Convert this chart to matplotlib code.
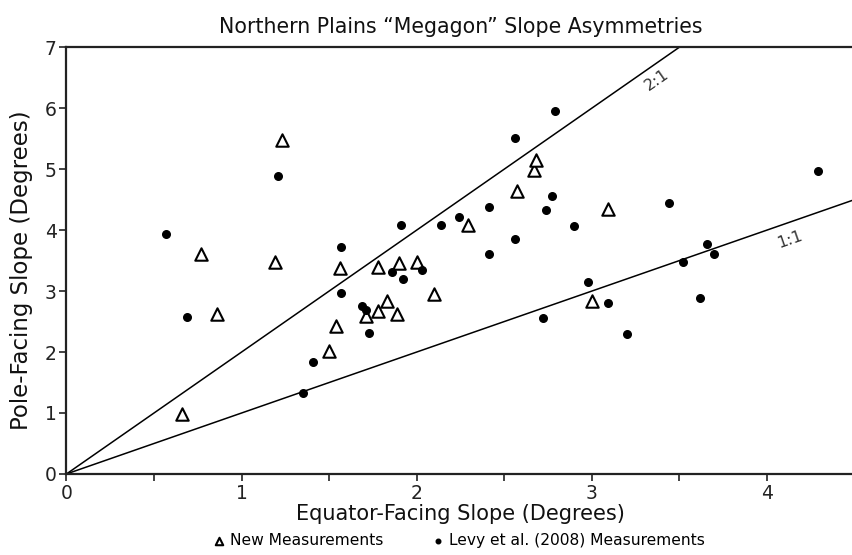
import numpy as np
import matplotlib
matplotlib.use("Agg")
from matplotlib import pyplot as plt

plt.rcParams['font.family'] = ['DejaVu Sans']

# New measurements (triangles)
new_x = [0.66, 0.77, 0.86, 1.19, 1.23, 1.50, 1.54, 1.56, 1.71, 1.78, 1.78, 1.83,
         1.89, 1.90, 2.00, 2.10, 2.29, 2.57, 2.67, 2.68, 3.00, 3.09]
new_y = [0.98, 3.60, 2.63, 3.47, 5.48, 2.02, 2.43, 3.37, 2.59, 2.68, 3.39, 2.84,
         2.63, 3.46, 3.47, 2.95, 4.08, 4.64, 4.98, 5.15, 2.84, 4.34]

# Levy et al. (2008) measurements (dots)
levy_x = [0.57, 0.69, 1.21, 1.35, 1.41, 1.57, 1.57, 1.69, 1.71, 1.73, 1.86, 1.91,
          1.92, 2.03, 2.14, 2.24, 2.41, 2.41, 2.56, 2.56, 2.72, 2.74, 2.77, 2.79,
          2.90, 2.98, 3.09, 3.20, 3.44, 3.52, 3.62, 3.66, 3.70, 4.29]
levy_y = [3.93, 2.58, 4.89, 1.33, 1.83, 2.96, 3.73, 2.75, 2.69, 2.31, 3.31, 4.08,
          3.20, 3.34, 4.08, 4.22, 3.61, 4.38, 5.51, 3.86, 2.56, 4.33, 4.56, 5.96,
          4.07, 3.15, 2.81, 2.29, 4.45, 3.47, 2.89, 3.77, 3.61, 4.97]

# reference ratio lines and where their labels sit (x position, drop below line)
ratios = [2, 1]
ratio_labels = ["2:1", "1:1"]
label_x = [3.37, 4.13]
label_drop = [0.27, 0.29]

fig = plt.figure(figsize=(8.52, 5.55), dpi=100)
ax = fig.add_axes([0.078, 0.146, 0.925, 0.769])

xmax, ymax = 4.5, 7
xs = np.array([0, xmax])
for r in ratios:
    ax.plot(xs, r * xs, color='black', lw=1.1, zorder=1)

ax.scatter(new_x, new_y, marker='^', s=80, facecolors='white', edgecolors='black',
           linewidths=1.5, zorder=3, label='New Measurements')
ax.scatter(levy_x, levy_y, marker='o', s=30, color='black', zorder=3,
           label='Levy et al. (2008) Measurements')

ax.set_xlim(0, xmax)
ax.set_ylim(0, ymax)
fig.canvas.draw()
for r, lab, lx, dy in zip(ratios, ratio_labels, label_x, label_drop):
    p0 = ax.transData.transform((0, 0))
    p1 = ax.transData.transform((1, r))
    ang = np.degrees(np.arctan2(p1[1] - p0[1], p1[0] - p0[0]))
    ax.text(lx, r * lx - dy, lab, rotation=ang, rotation_mode='anchor',
            ha='center', va='center', fontsize=11.5, color='#333333')

ax.set_xticks([0, 1, 2, 3, 4])
ax.set_xticks([0.5, 1.5, 2.5, 3.5], minor=True)
ax.set_yticks(range(0, 8))
ax.tick_params(axis='both', which='both', direction='out', length=5, width=1.2,
               labelsize=13.5, pad=2, colors='#222222')
ax.tick_params(axis='x', which='both', top=False)
ax.tick_params(axis='y', right=False)
for s in ['left', 'bottom', 'top']:
    ax.spines[s].set_linewidth(1.6)
    ax.spines[s].set_color('#222222')
ax.spines['right'].set_visible(False)

ax.set_xlabel("Equator-Facing Slope (Degrees)", fontsize=15, labelpad=1, color='#111111')
ax.set_ylabel("Pole-Facing Slope (Degrees)", fontsize=16.5, color='#111111')
ax.yaxis.set_label_coords(-0.043, 0.478)
ax.set_title("Northern Plains \u201cMegagon\u201d Slope Asymmetries", fontsize=14.8, pad=10,
             color='#111111')

ax.legend(loc='upper center', bbox_to_anchor=(0.497, -0.105), ncol=2, frameon=False,
          fontsize=11.2, markerscale=0.6, handletextpad=0.2, columnspacing=3.0,
          handlelength=1.0)

plt.savefig("out.png", dpi=100)
